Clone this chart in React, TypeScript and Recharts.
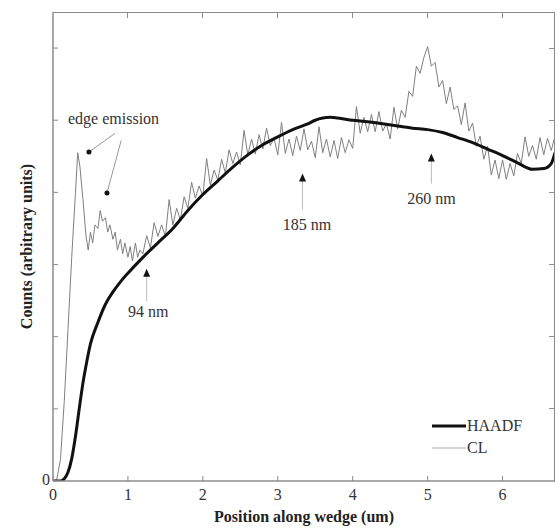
import {
    LineChart,
    Line,
    XAxis,
    YAxis,
    ReferenceLine,
    ReferenceDot,
    Legend,
} from "recharts";

// Position along wedge (um) vs counts, HAADF (smooth) and CL (noisy)
const xTicks = [0, 1, 2, 3, 4, 5, 6];
const yTicks = [0, 1, 2, 3, 4, 5, 6];
const X_MAX = 6.7;
const Y_MAX = 6.5;

const haadfX = [0, 0.1, 0.15, 0.2, 0.25, 0.3, 0.35, 0.4, 0.45, 0.5, 0.6, 0.7, 0.8, 0.9, 1.0, 1.2, 1.4, 1.6, 1.8, 2.0, 2.2, 2.4, 2.6, 2.8, 3.0, 3.2, 3.4, 3.5, 3.6, 3.7, 3.8, 4.0, 4.2, 4.4, 4.6, 4.8, 5.0, 5.2, 5.4, 5.6, 5.8, 6.0, 6.2, 6.4, 6.55, 6.65, 6.7];
const haadfY = [0, 0, 0.03, 0.12, 0.31, 0.62, 1.0, 1.36, 1.65, 1.9, 2.2, 2.45, 2.62, 2.76, 2.88, 3.1, 3.3, 3.5, 3.75, 3.97, 4.16, 4.35, 4.52, 4.66, 4.77, 4.87, 4.95, 5.0, 5.03, 5.04, 5.03, 5.0, 4.98, 4.95, 4.92, 4.89, 4.87, 4.83, 4.76, 4.69, 4.6, 4.51, 4.41, 4.32, 4.33, 4.4, 4.55];

const clX = [
    0, 0.05, 0.1, 0.15, 0.2, 0.25, 0.3, 0.33, 0.36, 0.4, 0.44, 0.47, 0.5, 0.53, 0.56, 0.6, 0.63, 0.66, 0.7, 0.73,
    0.76, 0.8, 0.83, 0.86, 0.9, 0.93, 0.96, 1.0, 1.03, 1.06, 1.1, 1.13, 1.16, 1.2,
    1.25, 1.3, 1.35, 1.4, 1.45, 1.5, 1.55, 1.6, 1.65, 1.7, 1.75, 1.8, 1.85, 1.9, 1.95, 2.0,
    2.05, 2.1, 2.15, 2.2, 2.25, 2.3, 2.35, 2.4, 2.45, 2.5, 2.55, 2.6, 2.65, 2.7, 2.75, 2.8,
    2.85, 2.9, 2.95, 3.0, 3.05, 3.1, 3.15, 3.2, 3.25, 3.3, 3.35, 3.4, 3.45, 3.5, 3.55, 3.6,
    3.65, 3.7, 3.75, 3.8, 3.85, 3.9, 3.95, 4.0, 4.05, 4.1, 4.15, 4.2, 4.25, 4.3, 4.35, 4.4,
    4.45, 4.5, 4.55, 4.6, 4.65, 4.7, 4.75, 4.8, 4.85, 4.9, 4.95, 5.0, 5.05, 5.1, 5.15, 5.2,
    5.25, 5.3, 5.35, 5.4, 5.45, 5.5, 5.55, 5.6, 5.65, 5.7, 5.75, 5.8, 5.85, 5.9, 5.95, 6.0,
    6.05, 6.1, 6.15, 6.2, 6.25, 6.3, 6.35, 6.4, 6.45, 6.5, 6.55, 6.6, 6.65, 6.7,
];
const clY = [
    0, 0.02, 0.3, 1.1, 2.1, 3.1, 4.0, 4.55, 4.35, 3.9, 3.4, 3.2, 3.45, 3.3, 3.55, 3.5, 3.75, 3.6, 3.65, 3.45,
    3.55, 3.35, 3.45, 3.2, 3.35, 3.15, 3.3, 3.1, 3.25, 3.05, 3.3, 3.1, 3.2, 3.15,
    3.4, 3.23, 3.58, 3.39, 3.55, 3.39, 3.9, 3.55, 3.78, 3.62, 3.94, 3.78, 4.14, 3.92, 4.09, 3.95,
    4.47, 4.1, 4.31, 4.17, 4.46, 4.27, 4.59, 4.4, 4.56, 4.38, 4.86, 4.52, 4.74, 4.53, 4.8, 4.6,
    4.89, 4.65, 4.75, 4.52, 4.97, 4.54, 4.74, 4.51, 4.78, 4.58, 4.88, 4.59, 4.71, 4.48, 4.91, 4.55,
    4.74, 4.49, 4.72, 4.47, 4.76, 4.55, 4.73, 4.61, 5.19, 4.82, 5.04, 4.84, 5.08, 4.84, 5.12, 4.85,
    4.95, 4.74, 5.18, 4.88, 5.14, 5.04, 5.4, 5.33, 5.75, 5.65, 5.87, 6.02, 5.75, 5.8, 5.46, 5.55,
    5.23, 5.46, 5.15, 5.2, 4.94, 5.24, 4.85, 4.96, 4.64, 4.78, 4.46, 4.64, 4.24, 4.45, 4.19, 4.45,
    4.18, 4.4, 4.23, 4.54, 4.4, 4.77, 4.5, 4.65, 4.46, 4.76, 4.52, 4.75, 4.58, 4.78,
];

const haadfData = haadfX.map((x, i) => ({ x, y: haadfY[i] }));
const clData = clX.map((x, i) => ({ x, y: clY[i] }));

const AXIS = "#8c8c8c";
const FONT = "'Liberation Serif', 'Times New Roman', serif";

// plot box (chart margins + axis sizes)
const W = 558;
const H = 530;
const M = { top: 12, right: 3, left: 13, bottom: 0 };
const Y_AXIS_W = 40;
const X_AXIS_H = 49;
const PLOT_L = M.left + Y_AXIS_W;
const PLOT_W = W - PLOT_L - M.right;
const PLOT_H = H - M.top - X_AXIS_H;

function BottomTick({ x, y, payload }: any) {
    return (
        <g>
            <line x1={x} x2={x} y1={y} y2={y - 5} stroke={AXIS} />
            <text x={x} y={y + 19} textAnchor="middle" fontFamily={FONT} fontSize={16} fill="#333">
                {payload.value}
            </text>
        </g>
    );
}

function LeftTick({ x, y, payload }: any) {
    return (
        <g>
            <line x1={x} x2={x + 5} y1={y} y2={y} stroke={AXIS} />
            {payload.value === 0 && (
                <text x={x - 3} y={y + 4} textAnchor="end" fontFamily={FONT} fontSize={16} fill="#333">
                    0
                </text>
            )}
        </g>
    );
}

// small up-pointing arrow head
function ArrowHead({ cx, cy }: any) {
    return <polygon points={`${cx},${cy} ${cx - 3.5},${cy + 8} ${cx + 3.5},${cy + 8}`} fill="#111" />;
}

function Dot({ cx, cy }: any) {
    return <circle cx={cx} cy={cy} r={2.5} fill="#111" />;
}

function makeText(label: string, anchor: string) {
    return ({ cx, cy }: any) => (
        <text x={cx} y={cy} textAnchor={anchor} dominantBaseline="central" fontFamily={FONT} fontSize={16} fill="#333">
            {label}
        </text>
    );
}

function LegendBox() {
    return (
        <svg width={130} height={44}>
            <line x1={2} x2={36} y1={10} y2={10} stroke="#111" strokeWidth={3} />
            <text x={37} y={15} fontFamily={FONT} fontSize={16} fill="#333">HAADF</text>
            <line x1={2} x2={36} y1={32} y2={32} stroke="#aaa" strokeWidth={1} />
            <text x={37} y={37} fontFamily={FONT} fontSize={16} fill="#333">CL</text>
        </svg>
    );
}

// top and right edges of the box, with inward ticks
function Frame() {
    return (
        <div
            style={{
                position: "absolute",
                left: PLOT_L,
                top: M.top,
                width: PLOT_W,
                height: PLOT_H,
                boxSizing: "border-box",
                borderTop: `1px solid ${AXIS}`,
                borderRight: `1px solid ${AXIS}`,
                pointerEvents: "none",
            }}
        >
            {xTicks.slice(1).map((t) => (
                <div key={`tx${t}`} style={{ position: "absolute", top: 0, left: (t / X_MAX) * PLOT_W - 0.5, width: 1, height: 5, background: AXIS }} />
            ))}
            {yTicks.slice(1).map((t) => (
                <div key={`ty${t}`} style={{ position: "absolute", right: 0, top: (1 - t / Y_MAX) * PLOT_H - 1.5, width: 5, height: 1, background: AXIS }} />
            ))}
        </div>
    );
}

const seg = (x: number, y1: number, y2: number) => [
    { x, y: y1 },
    { x, y: y2 },
];

export default function App() {
    return (
        <div style={{ position: "absolute", left: 0, top: 0, width: W, height: H, background: "#fff" }}>
            <LineChart width={W} height={H} margin={M}>
                <XAxis
                    xAxisId="bottom"
                    dataKey="x"
                    type="number"
                    domain={[0, X_MAX]}
                    ticks={xTicks}
                    allowDataOverflow
                    height={X_AXIS_H}
                    stroke={AXIS}
                    strokeWidth={1.5}
                    tickSize={0}
                    tickMargin={0}
                    tickLine={false}
                    tick={<BottomTick />}
                    label={{
                        value: "Position along wedge (um)",
                        position: "insideBottom",
                        offset: 8,
                        style: { fontFamily: FONT, fontSize: 16, fontWeight: 700, fill: "#222" },
                    }}
                />
                <YAxis
                    yAxisId="left"
                    type="number"
                    domain={[0, Y_MAX]}
                    ticks={yTicks}
                    allowDataOverflow
                    width={Y_AXIS_W}
                    stroke={AXIS}
                    strokeWidth={1.5}
                    tickSize={0}
                    tickMargin={0}
                    tickLine={false}
                    tick={<LeftTick />}
                    label={{
                        value: "Counts (arbitrary units)",
                        angle: -90,
                        position: "insideLeft",
                        offset: 13,
                        style: { textAnchor: "middle", fontFamily: FONT, fontSize: 16, fontWeight: 700, fill: "#222" },
                    }}
                />

                <Line
                    xAxisId="bottom"
                    yAxisId="left"
                    data={clData}
                    dataKey="y"
                    name="CL"
                    type="linear"
                    stroke="#808080"
                    strokeWidth={1}
                    dot={false}
                    isAnimationActive={false}
                />
                <Line
                    xAxisId="bottom"
                    yAxisId="left"
                    data={haadfData}
                    dataKey="y"
                    name="HAADF"
                    type="monotone"
                    stroke="#111"
                    strokeWidth={3}
                    dot={false}
                    isAnimationActive={false}
                />

                {/* annotations */}
                <ReferenceLine xAxisId="bottom" yAxisId="left" segment={seg(1.25, 2.49, 2.9)} stroke="#bbb" ifOverflow="visible" />
                <ReferenceLine xAxisId="bottom" yAxisId="left" segment={seg(3.33, 3.76, 4.22)} stroke="#bbb" ifOverflow="visible" />
                <ReferenceLine xAxisId="bottom" yAxisId="left" segment={seg(5.05, 4.12, 4.5)} stroke="#bbb" ifOverflow="visible" />
                <ReferenceLine xAxisId="bottom" yAxisId="left" segment={[{ x: 0.83, y: 4.82 }, { x: 0.48, y: 4.56 }]} stroke="#999" ifOverflow="visible" />
                <ReferenceLine xAxisId="bottom" yAxisId="left" segment={[{ x: 0.91, y: 4.72 }, { x: 0.72, y: 3.99 }]} stroke="#999" ifOverflow="visible" />

                <ReferenceDot xAxisId="bottom" yAxisId="left" x={1.25} y={2.94} shape={ArrowHead} ifOverflow="visible" />
                <ReferenceDot xAxisId="bottom" yAxisId="left" x={3.33} y={4.26} shape={ArrowHead} ifOverflow="visible" />
                <ReferenceDot xAxisId="bottom" yAxisId="left" x={5.05} y={4.54} shape={ArrowHead} ifOverflow="visible" />
                <ReferenceDot xAxisId="bottom" yAxisId="left" x={0.48} y={4.56} shape={Dot} ifOverflow="visible" />
                <ReferenceDot xAxisId="bottom" yAxisId="left" x={0.72} y={3.99} shape={Dot} ifOverflow="visible" />

                <ReferenceDot xAxisId="bottom" yAxisId="left" x={0.2} y={5.03} shape={makeText("edge emission", "start")} ifOverflow="visible" />
                <ReferenceDot xAxisId="bottom" yAxisId="left" x={1.27} y={2.35} shape={makeText("94 nm", "middle")} ifOverflow="visible" />
                <ReferenceDot xAxisId="bottom" yAxisId="left" x={3.39} y={3.56} shape={makeText("185 nm", "middle")} ifOverflow="visible" />
                <ReferenceDot xAxisId="bottom" yAxisId="left" x={5.05} y={3.92} shape={makeText("260 nm", "middle")} ifOverflow="visible" />

                <Legend
                    layout="vertical"
                    align="center"
                    verticalAlign="middle"
                    content={<LegendBox />}
                    wrapperStyle={{ position: "absolute", left: 430, top: 416, width: 130 }}
                />
            </LineChart>
            <Frame />
        </div>
    );
}
